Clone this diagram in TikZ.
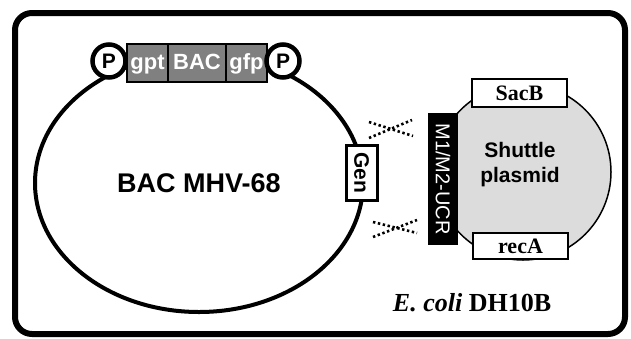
\documentclass[tikz,border=0pt]{standalone}
\usepackage{fontspec}
\setmainfont{Liberation Serif}
\setsansfont{Liberation Sans}
\usetikzlibrary{shapes.geometric}
\definecolor{genegray}{RGB}{128,128,128}
\definecolor{plasgray}{RGB}{220,220,220}
\newcommand{\fs}[1]{\fontsize{#1}{#1}\selectfont}
\tikzset{
  gene/.style={draw=black, line width=2.5pt, fill=genegray, text=white, font=\sffamily\bfseries\fs{22},
    minimum height=38pt, inner sep=0pt, text height=16pt, text depth=4pt, anchor=center},
  promoter/.style={circle, draw=black, line width=4.5pt, fill=white, minimum size=33pt, inner sep=0pt,
    font=\sffamily\bfseries\fs{21}},
  marker/.style={draw=black, line width=1.5pt, fill=white, minimum width=95pt, inner sep=0pt,
    font=\rmfamily\bfseries\fs{22}},
  xdots/.style={line width=2.6pt, dash pattern=on 2.4pt off 2.6pt},
}
\begin{document}
\begin{tikzpicture}[x=1pt,y=-1pt]
\useasboundingbox (0,0) rectangle (631,338);
% outer frame
\draw[line width=6pt, rounded corners=17pt] (15,13) rectangle (625,334);
% BAC genome
\node[ellipse, draw=black, line width=4pt, minimum width=328pt, minimum height=258pt, inner sep=0pt,
  font=\sffamily\bfseries\fs{27}] (bac) at (199,183) {BAC MHV-68};
% cassette
\node[gene, minimum width=41pt] (gpt) at (147.5,63) {gpt};
\node[gene, minimum width=58pt] (bacg) at (197,63) {BAC};
\node[gene, minimum width=41pt] (gfp) at (246.5,63) {gfp};
\node[promoter] (p1) at (109,61) {P};
\node[promoter] (p2) at (283,61) {P};
% Gen
\node[draw=black, line width=3pt, fill=white, minimum width=31pt, minimum height=55pt, inner sep=0pt] (gen) at (361.5,172.5) {};
\node[rotate=-90, font=\sffamily\bfseries\fs{21}] (gentext) at (gen.center) {Gen};
% shuttle plasmid
\node[circle, draw=black, line width=1.5pt, fill=plasgray, minimum size=176pt, inner sep=0pt] (shuttle) at (523,172) {};
\node[align=center, font=\sffamily\bfseries\fs{21}, inner sep=0pt] (shtext) at (520,165) {Shuttle\\[4pt]plasmid};
\node[fill=black, minimum width=30pt, minimum height=132pt, inner sep=0pt] (ucr) at (443,179) {};
\node[rotate=-90, text=white, font=\sffamily\fs{20}] (ucrtext) at (ucr.center) {M1/M2-UCR};
\node[marker, minimum height=28pt] (sacb) at (519.5,93) {SacB};
\node[marker, minimum height=26pt] (reca) at (520.5,246) {recA};
% recombination crosses
\coordinate (c1a) at (369,122); \coordinate (c1b) at (413,136);
\coordinate (c1c) at (369,138); \coordinate (c1d) at (412,120);
\coordinate (c2a) at (373,222); \coordinate (c2b) at (417,233);
\coordinate (c2c) at (373,237); \coordinate (c2d) at (417,220);
\draw[xdots] (c1a) -- (c1b);
\draw[xdots] (c1c) -- (c1d);
\draw[xdots] (c2a) -- (c2b);
\draw[xdots] (c2c) -- (c2d);
% host label
\node[font=\rmfamily\bfseries\fs{26}] (host) at (472,303) {\textit{E. coli} DH10B};
\end{tikzpicture}
\end{document}
